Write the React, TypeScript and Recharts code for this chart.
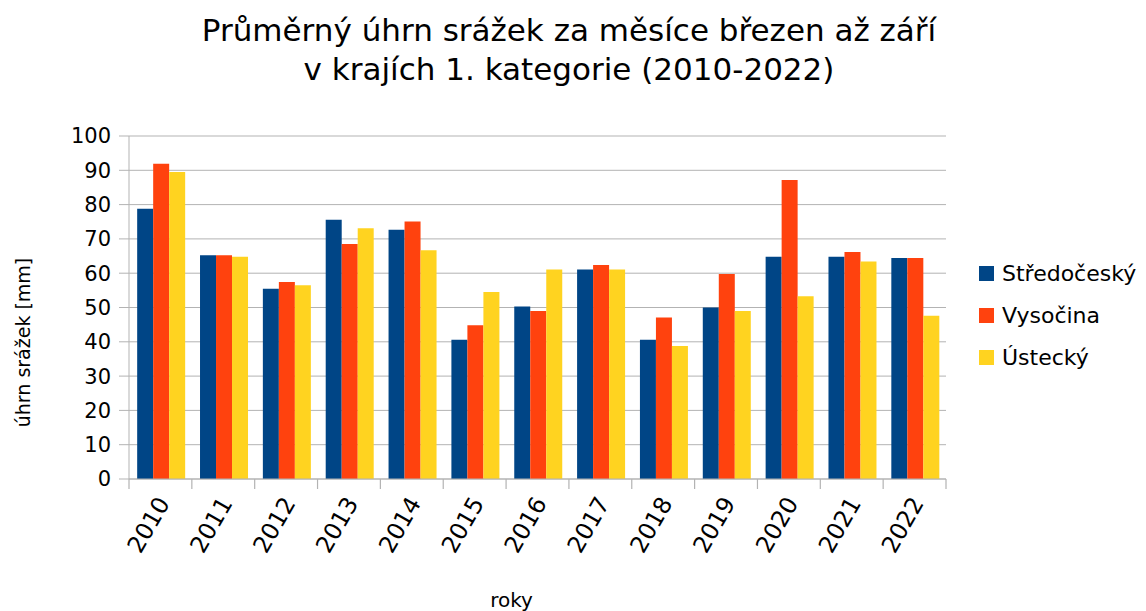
import React from "react";
import { BarChart, Bar, XAxis, YAxis, CartesianGrid, Legend, Label } from "recharts";

const years = ["2010","2011","2012","2013","2014","2015","2016","2017","2018","2019","2020","2021","2022"];
const stredocesky = [78.8, 65.2, 55.5, 75.6, 72.7, 40.6, 50.3, 61.1, 40.6, 50.0, 64.8, 64.8, 64.4];
const vysocina = [91.9, 65.2, 57.4, 68.5, 75.1, 44.8, 49.0, 62.4, 47.1, 59.8, 87.2, 66.2, 64.4];
const ustecky = [89.5, 64.8, 56.5, 73.1, 66.7, 54.5, 61.1, 61.1, 38.8, 49.0, 53.3, 63.4, 47.6];
const yTicks = [0, 10, 20, 30, 40, 50, 60, 70, 80, 90, 100];
const seriesNames = ["Středočeský", "Vysočina", "Ústecký"];
const colors = ["#004586", "#ff420e", "#ffd320"];

const data = years.map((y, i) => ({
  year: y,
  s: stredocesky[i],
  v: vysocina[i],
  u: ustecky[i],
}));

const FONT = "'DejaVu Sans', Verdana, sans-serif";
const GRID = "#b3b3b3";

const XTick = (props: any) => {
  const { x, y, payload, index } = props;
  const half = typeof payload?.offset === "number" ? payload.offset : 0;
  const isLast = index === years.length - 1;
  return (
    <g>
      <line x1={x - half} x2={x - half} y1={y - 10} y2={y} stroke={GRID} strokeWidth={1.2} />
      {isLast && <line x1={x + half} x2={x + half} y1={y - 10} y2={y} stroke={GRID} strokeWidth={1.2} />}
      <g transform={`translate(${x + 10},${y + 14})`}>
        <text x={0} y={0} textAnchor="end" transform="rotate(-60)" fontSize={23.5} fontFamily={FONT} fill="#000">
          {payload.value}
        </text>
      </g>
    </g>
  );
};

const LegendContent = () => (
  <div style={{ fontFamily: FONT, fontSize: 22, color: "#000" }}>
    {seriesNames.map((n, i) => (
      <div key={n} style={{ display: "flex", alignItems: "center", height: 42 }}>
        <span style={{ display: "inline-block", width: 15, height: 15, background: colors[i], marginRight: 8 }} />
        <span>{n}</span>
      </div>
    ))}
  </div>
);

export default function App() {
  return (
    <div style={{ position: "absolute", left: 0, top: 0, width: 1146, height: 611, background: "#fff" }}>
      <div
        style={{
          position: "absolute",
          left: 0,
          top: 11,
          width: 1138,
          textAlign: "center",
          fontFamily: FONT,
          fontSize: 31,
          lineHeight: "39px",
          color: "#000",
        }}
      >
        <div>Průměrný úhrn srážek za měsíce březen až září</div>
        <div>v krajích 1. kategorie (2010-2022)</div>
      </div>
      <BarChart
        width={1146}
        height={611}
        data={data}
        margin={{ top: 136, right: 200, bottom: 0, left: 1 }}
        barCategoryGap="13%"
        barGap={0}
      >
        <CartesianGrid vertical={false} stroke={GRID} yAxisId="left" xAxisId="cat" />
        <XAxis
          xAxisId="cat"
          dataKey="year"
          axisLine={{ stroke: GRID }}
          tickLine={false}
          tickSize={10}
          tickMargin={0}
          tick={<XTick />}
          height={132}
          interval={0}
        >
          <Label value="roky" position="insideBottom" offset={4} dx={-26} style={{ fontFamily: FONT, fontSize: 20, fill: "#000" }} />
        </XAxis>
        <YAxis
          yAxisId="left"
          domain={[0, 100]}
          ticks={yTicks}
          width={128}
          tickSize={10}
          tickMargin={8}
          tickLine={{ stroke: GRID }}
          axisLine={{ stroke: GRID }}
          tick={{ fontFamily: FONT, fontSize: 21, fill: "#000" }}
          interval={0}
        >
          <Label
            value="úhrn srážek [mm]"
            angle={-90}
            position="insideLeft"
            offset={22}
            dy={35}
            style={{ fontFamily: FONT, fontSize: 19, fill: "#000", textAnchor: "middle" }}
          />
        </YAxis>
        <YAxis yAxisId="right" orientation="right" width={0} domain={[0, 100]} tick={false} tickLine={false} axisLine={{ stroke: GRID }} />
        <Legend
          layout="vertical"
          align="center"
          verticalAlign="middle"
          content={<LegendContent />}
          wrapperStyle={{ position: "absolute", left: 979, top: 252, width: 167 }}
        />
        <Bar dataKey="s" name={seriesNames[0]} fill={colors[0]} xAxisId="cat" yAxisId="left" isAnimationActive={false} />
        <Bar dataKey="v" name={seriesNames[1]} fill={colors[1]} xAxisId="cat" yAxisId="left" isAnimationActive={false} />
        <Bar dataKey="u" name={seriesNames[2]} fill={colors[2]} xAxisId="cat" yAxisId="left" isAnimationActive={false} />
      </BarChart>
    </div>
  );
}
